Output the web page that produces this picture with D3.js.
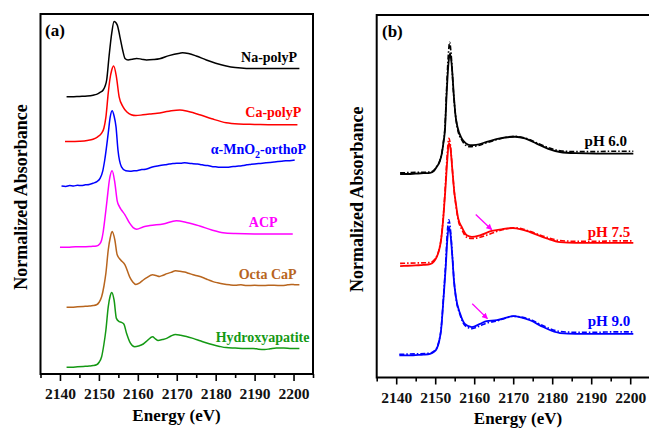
<!DOCTYPE html>
<html>
<head>
<meta charset="utf-8">
<script src="https://cdn.jsdelivr.net/npm/d3@7"></script>
<style>
  html, body { margin: 0; padding: 0; background: #fff; }
  svg { display: block; font-family: "Liberation Serif", "Times New Roman", serif; font-weight: bold; }
</style>
</head>
<body>
<svg id="chart" width="649" height="430"></svg>
<script>
// P K-edge XANES spectra: energy (eV) vs normalized absorbance, offset vertically for stacking.

const energyTicks = [2140, 2150, 2160, 2170, 2180, 2190, 2200];
const minorTicks = [2135, 2145, 2155, 2165, 2175, 2185, 2195, 2205];

// ---- panel (a): reference compounds ----
const refNames = ["Na-polyP", "Ca-polyP", "α-MnO2-orthoP", "ACP", "Octa CaP", "Hydroxyapatite"];
const refColors = ["#000000", "#ff0000", "#0000ff", "#ff00ff", "#b8651e", "#149914"];

const naPolyP = [[2141.7,6.93],[2143,6.93],[2145,6.94],[2147,6.95],[2148.5,6.97],[2149.4,6.99],[2150.3,7.04],[2151.1,7.10],[2151.6,7.20],[2152.0,7.35],[2152.6,7.93],[2153.3,8.52],[2153.9,8.81],[2154.7,8.73],[2155.4,8.43],[2156.1,8.10],[2156.7,7.89],[2157.5,7.85],[2158.5,7.87],[2159.7,7.89],[2161,7.87],[2162.2,7.85],[2164,7.86],[2165.6,7.88],[2168,7.96],[2170.8,8.02],[2171.5,8.03],[2173,8.01],[2175,7.95],[2177.6,7.85],[2180,7.77],[2182.7,7.70],[2185,7.66],[2187.9,7.64],[2192,7.64],[2196,7.64],[2201.5,7.64]];

const caPolyP = [[2141.3,5.81],[2143,5.81],[2145,5.82],[2147,5.84],[2148.5,5.87],[2149.7,5.93],[2150.7,6.02],[2151.3,6.15],[2151.8,6.42],[2152.4,7.02],[2152.8,7.35],[2153.3,7.60],[2153.8,7.70],[2154.5,7.43],[2155.2,6.93],[2156.2,6.68],[2157.2,6.55],[2158.3,6.48],[2159.5,6.46],[2161.3,6.48],[2163,6.50],[2165,6.52],[2168,6.57],[2170.8,6.60],[2173,6.56],[2175.9,6.48],[2179,6.38],[2182.7,6.28],[2186,6.25],[2190,6.24],[2195,6.23],[2201,6.23]];

const mno2OrthoP = [[2140.4,4.70],[2141.5,4.69],[2142.5,4.71],[2143.5,4.70],[2144.5,4.72],[2145.5,4.71],[2146.5,4.73],[2147.5,4.74],[2148.5,4.77],[2149.5,4.81],[2150.3,4.89],[2151,5.08],[2151.5,5.35],[2152.4,6.02],[2152.9,6.42],[2153.4,6.58],[2153.9,6.45],[2154.4,6.18],[2154.9,5.60],[2155.8,5.18],[2156.9,5.08],[2158,5.07],[2159,5.08],[2160,5.09],[2161,5.11],[2162,5.12],[2163,5.15],[2164,5.18],[2165,5.20],[2166,5.22],[2167,5.23],[2168,5.25],[2169,5.26],[2170,5.27],[2171,5.27],[2172,5.28],[2173,5.27],[2174,5.26],[2175,5.25],[2176,5.24],[2177,5.22],[2178,5.21],[2179,5.19],[2180,5.18],[2181,5.17],[2182,5.17],[2183,5.17],[2184,5.18],[2185,5.19],[2186,5.20],[2187,5.21],[2188,5.23],[2189,5.24],[2190,5.25],[2191,5.26],[2192,5.27],[2193,5.28],[2194,5.29],[2195,5.30],[2196,5.31],[2197,5.32],[2198,5.33],[2199,5.33],[2200.3,5.35]];

const acp = [[2140,3.17],[2142,3.17],[2144,3.18],[2146,3.18],[2148,3.19],[2149.4,3.20],[2150.2,3.25],[2150.7,3.35],[2151.1,3.55],[2151.5,3.85],[2152.1,4.35],[2152.7,4.85],[2153.4,5.08],[2154.1,4.78],[2154.7,4.33],[2155.3,4.18],[2155.8,4.10],[2156.7,3.98],[2157.9,3.77],[2158.8,3.66],[2159.7,3.62],[2161.5,3.68],[2163.1,3.71],[2166.5,3.75],[2169.9,3.83],[2172.5,3.79],[2175.9,3.70],[2179,3.60],[2181.9,3.53],[2185,3.51],[2190,3.50],[2195,3.50],[2199.8,3.50]];

const octaCaP = [[2141.7,1.67],[2143,1.67],[2144.5,1.68],[2146,1.69],[2147.5,1.70],[2148.5,1.71],[2149.4,1.73],[2150.1,1.80],[2150.7,1.93],[2151.3,2.20],[2151.8,2.52],[2152.4,3.10],[2152.9,3.40],[2153.4,3.56],[2154.1,3.35],[2154.7,2.98],[2155.6,2.85],[2156.7,2.73],[2157.9,2.43],[2158.7,2.30],[2159.5,2.24],[2160.5,2.28],[2161.4,2.35],[2162.3,2.41],[2163.8,2.48],[2164.7,2.46],[2165.6,2.44],[2166.5,2.47],[2167.5,2.51],[2168.5,2.54],[2169.7,2.58],[2170.8,2.57],[2172,2.55],[2173,2.52],[2174.2,2.48],[2175.5,2.45],[2177,2.40],[2178,2.36],[2179.3,2.31],[2180.5,2.28],[2182,2.25],[2183.6,2.23],[2185,2.22],[2186.5,2.23],[2188,2.21],[2190,2.22],[2192,2.21],[2193.5,2.22],[2195,2.22],[2197,2.21],[2198.5,2.23],[2199.4,2.24],[2200.5,2.23],[2201.5,2.23]];

const hydroxyapatite = [[2141.7,0.17],[2143,0.17],[2144.5,0.18],[2146,0.19],[2147.5,0.20],[2148.5,0.21],[2149.4,0.23],[2150.1,0.30],[2150.7,0.43],[2151.3,0.75],[2151.8,1.10],[2152.4,1.68],[2152.9,1.95],[2153.3,2.04],[2153.9,1.85],[2154.5,1.39],[2155.2,1.31],[2155.8,1.29],[2156.4,1.25],[2157.1,1.02],[2158.1,0.77],[2159.2,0.68],[2160.2,0.70],[2161.4,0.75],[2162.5,0.84],[2163.8,0.93],[2164.5,0.88],[2165.2,0.84],[2166.3,0.86],[2167.4,0.89],[2168.5,0.95],[2169.7,0.99],[2171,0.97],[2172.5,0.94],[2174.2,0.89],[2176,0.83],[2177.5,0.78],[2179.3,0.73],[2181,0.69],[2182.7,0.66],[2185,0.65],[2187.5,0.64],[2189.6,0.64],[2191,0.62],[2192.6,0.61],[2194,0.63],[2195.6,0.65],[2197.5,0.65],[2199.5,0.64],[2201.5,0.64]];

// ---- panel (b): samples at three pH values, measured (solid) and fitted (dash-dot) ----
const phNames = ["pH 6.0", "pH 7.5", "pH 9.0"];
const phColors = ["#000000", "#ff0000", "#0000ff"];

const ph60Exp = [[2141,5.08],[2143,5.08],[2145,5.09],[2147,5.10],[2148.7,5.11],[2149.7,5.16],[2150.4,5.26],[2151.1,5.38],[2151.7,5.59],[2152.1,5.85],[2152.5,6.18],[2152.9,7.01],[2153.4,7.84],[2153.8,8.09],[2154.2,7.84],[2154.8,7.01],[2155.2,6.55],[2155.7,6.26],[2156.8,5.97],[2157.8,5.85],[2158.9,5.80],[2160.5,5.81],[2163.2,5.88],[2166.6,5.97],[2170.5,6.01],[2173,5.97],[2176,5.84],[2179,5.71],[2182,5.63],[2186,5.60],[2191.4,5.59],[2196,5.59],[2200.8,5.59]];
const ph60Fit = [[2141,5.11],[2145,5.12],[2148.7,5.13],[2149.7,5.18],[2150.4,5.27],[2151.1,5.39],[2151.7,5.60],[2152.1,5.88],[2152.5,6.25],[2152.9,7.15],[2153.4,8.10],[2153.7,8.37],[2154.1,8.05],[2154.7,7.10],[2155.2,6.55],[2155.7,6.22],[2156.8,5.93],[2157.8,5.80],[2158.9,5.76],[2160.5,5.78],[2163.2,5.86],[2166.6,5.96],[2170.5,6.02],[2173,5.98],[2176,5.86],[2179,5.74],[2182,5.66],[2186,5.64],[2191.4,5.64],[2196,5.65],[2200.8,5.65]];

const ph75Exp = [[2141,2.78],[2143,2.79],[2145,2.80],[2147,2.81],[2148.7,2.83],[2149.7,2.90],[2150.4,3.01],[2151,3.18],[2151.5,3.43],[2152.1,4.01],[2152.6,4.68],[2153.1,5.43],[2153.5,5.85],[2153.9,5.73],[2154.4,5.18],[2154.9,4.63],[2155.3,4.34],[2155.9,3.97],[2156.8,3.76],[2158.1,3.55],[2159.4,3.51],[2161.5,3.55],[2164.5,3.66],[2167,3.70],[2169.9,3.73],[2172,3.70],[2174.3,3.63],[2178.6,3.47],[2182,3.38],[2186,3.36],[2191.4,3.36],[2196,3.36],[2200.8,3.36]];
const ph75Fit = [[2141,2.85],[2145,2.86],[2148.7,2.87],[2149.7,2.93],[2150.4,3.03],[2151,3.20],[2151.5,3.45],[2152.1,4.05],[2152.6,4.78],[2153.1,5.60],[2153.5,5.97],[2153.9,5.80],[2154.4,5.20],[2154.9,4.62],[2155.3,4.30],[2155.9,3.93],[2156.8,3.70],[2158.1,3.50],[2159.4,3.47],[2161.5,3.50],[2164.5,3.60],[2167,3.68],[2169.9,3.74],[2172,3.72],[2174.3,3.65],[2178.6,3.50],[2182,3.42],[2186,3.40],[2191.4,3.40],[2196,3.41],[2200.8,3.41]];

const ph90Exp = [[2140.8,0.55],[2143,0.55],[2145,0.56],[2147,0.57],[2148.7,0.59],[2149.7,0.64],[2150.4,0.72],[2151,0.90],[2151.5,1.18],[2152.1,1.93],[2152.7,2.76],[2153.1,3.43],[2153.5,3.76],[2153.9,3.59],[2154.4,3.01],[2154.8,2.43],[2155.3,2.01],[2156.4,1.59],[2157.6,1.34],[2159.4,1.26],[2161.5,1.34],[2163.2,1.41],[2165.8,1.43],[2168,1.49],[2170,1.53],[2172,1.50],[2174.3,1.43],[2177.7,1.26],[2182,1.11],[2186,1.09],[2191.4,1.09],[2196,1.09],[2200.8,1.09]];
const ph90Fit = [[2140.8,0.58],[2145,0.59],[2148.7,0.61],[2149.7,0.66],[2150.4,0.74],[2151,0.92],[2151.5,1.20],[2152.1,1.98],[2152.7,2.88],[2153.1,3.62],[2153.5,3.94],[2153.9,3.70],[2154.4,3.05],[2154.8,2.45],[2155.3,2.00],[2156.4,1.56],[2157.6,1.30],[2159.4,1.22],[2161.5,1.29],[2163.2,1.36],[2165.8,1.41],[2168,1.48],[2170,1.53],[2172,1.51],[2174.3,1.45],[2177.7,1.29],[2182,1.15],[2186,1.13],[2191.4,1.13],[2196,1.14],[2200.8,1.14]];

// ---- drawing ----
const svg = d3.select("#chart");
const refSeries = [naPolyP, caPolyP, mno2OrthoP, acp, octaCaP, hydroxyapatite];
const expSeries = [ph60Exp, ph75Exp, ph90Exp];
const fitSeries = [ph60Fit, ph75Fit, ph90Fit];

// where each curve label sits, in data units (right end of the text)
const refLabelAt = [[2200.9,7.80],[2202.0,6.43],[2203.2,5.50],[2195.9,3.68],[2200.8,2.38],[2204.1,0.81]];
const phLabelAt = [[2199.2,5.78],[2200.0,3.50],[2200.0,1.28]];
// arrows marking the shoulder near 2163 eV
const shoulderArrows = [[[2160.4,4.07],[2164.5,3.69]], [[2159.5,1.84],[2163.4,1.47]]];

const panels = [
  { key: "a", left: 40.5, right: 313, top: 14, bottom: 374, yMax: 9.0, titleX: 176.5, titleY: 421, yTitleX: 21, tag: "(a)", tagX: 45, tagY: 36 },
  { key: "b", left: 376.7, right: 649.7, top: 15, bottom: 377.5, yMax: 9.05, titleX: 518, titleY: 424, yTitleX: 357, tag: "(b)", tagX: 382, tagY: 37 }
];

svg.append("defs").append("marker")
  .attr("id", "arrowhead")
  .attr("viewBox", "0 0 10 10")
  .attr("refX", 9).attr("refY", 5)
  .attr("markerWidth", 6).attr("markerHeight", 6)
  .attr("markerUnits", "userSpaceOnUse")
  .attr("orient", "auto")
  .append("path")
  .attr("d", "M0,0 L10,5 L0,10 Z")
  .attr("fill", "#ff00ff");

panels.forEach(p => {
  p.x = d3.scaleLinear().domain([2135, 2205]).range([p.left, p.right]);
  p.y = d3.scaleLinear().domain([0, p.yMax]).range([p.bottom, p.top]);
  const g = svg.append("g");
  p.g = g;

  // minor ticks
  g.append("g")
    .attr("transform", `translate(0,${p.bottom})`)
    .call(d3.axisBottom(p.x).tickValues(minorTicks).tickSize(4).tickFormat(""))
    .call(a => a.select(".domain").remove())
    .call(a => a.selectAll("line").attr("stroke-width", 1.6));

  // major ticks + labels
  g.append("g")
    .attr("transform", `translate(0,${p.bottom})`)
    .call(d3.axisBottom(p.x).tickValues(energyTicks).tickSize(7).tickPadding(7).tickFormat(d3.format("d")))
    .call(a => a.select(".domain").remove())
    .call(a => a.selectAll("line").attr("stroke-width", 1.6))
    .call(a => a.selectAll("text")
      .attr("font-family", "'Liberation Serif', 'Times New Roman', serif")
      .attr("font-weight", "bold")
      .attr("font-size", 15.5)
      .attr("fill", "#111"));

  // frame
  g.append("rect")
    .attr("x", p.left).attr("y", p.top)
    .attr("width", (p.key === "b" ? 700 : p.right) - p.left)
    .attr("height", p.bottom - p.top)
    .attr("fill", "none").attr("stroke", "#000").attr("stroke-width", 2);

  g.append("text")
    .attr("x", p.titleX).attr("y", p.titleY)
    .attr("text-anchor", "middle").attr("font-size", 17)
    .text("Energy (eV)");

  g.append("text")
    .attr("transform", `translate(${p.yTitleX},${(p.top + p.bottom) / 2 + 3}) rotate(-90)`)
    .attr("text-anchor", "middle").attr("dominant-baseline", "central").attr("font-size", 18)
    .text("Normalized Absorbance");

  g.append("text")
    .attr("x", p.tagX).attr("y", p.tagY)
    .attr("font-size", 17)
    .text(p.tag);
});

const lineFor = p => d3.line()
  .x(d => p.x(d[0]))
  .y(d => p.y(d[1]))
  .curve(d3.curveMonotoneX);

// panel (a)
{
  const p = panels[0];
  const line = lineFor(p);
  refSeries.forEach((s, i) => {
    p.g.append("path")
      .attr("d", line(s))
      .attr("fill", "none")
      .attr("stroke", refColors[i])
      .attr("stroke-width", 1.5)
      .attr("stroke-linejoin", "round");
  });
  refNames.forEach((name, i) => {
    const t = p.g.append("text")
      .attr("x", p.x(refLabelAt[i][0]))
      .attr("y", p.y(refLabelAt[i][1]))
      .attr("text-anchor", "end")
      .attr("font-size", 14)
      .attr("fill", refColors[i]);
    const m = name.match(/^(.*?MnO)2(.*)$/);
    if (m) {
      t.append("tspan").text(m[1]);
      t.append("tspan").attr("font-size", 10).attr("dy", 4).text("2");
      t.append("tspan").attr("dy", -4).text(m[2]);
    } else {
      t.text(name);
    }
  });
}

// panel (b)
{
  const p = panels[1];
  const line = lineFor(p);
  expSeries.forEach((s, i) => {
    p.g.append("path")
      .attr("d", line(s))
      .attr("fill", "none")
      .attr("stroke", phColors[i])
      .attr("stroke-width", 1.8)
      .attr("stroke-linejoin", "round");
  });
  fitSeries.forEach((s, i) => {
    p.g.append("path")
      .attr("d", line(s))
      .attr("fill", "none")
      .attr("stroke", phColors[i])
      .attr("stroke-width", 1.6)
      .attr("stroke-dasharray", "5,2,1.5,2");
  });
  phNames.forEach((name, i) => {
    p.g.append("text")
      .attr("x", p.x(phLabelAt[i][0]))
      .attr("y", p.y(phLabelAt[i][1]))
      .attr("text-anchor", "end")
      .attr("font-size", 15)
      .attr("fill", phColors[i])
      .text(name);
  });
  shoulderArrows.forEach(([a, b]) => {
    p.g.append("line")
      .attr("x1", p.x(a[0])).attr("y1", p.y(a[1]))
      .attr("x2", p.x(b[0])).attr("y2", p.y(b[1]))
      .attr("stroke", "#ff00ff").attr("stroke-width", 1.3)
      .attr("marker-end", "url(#arrowhead)");
  });
}
</script>
</body>
</html>
